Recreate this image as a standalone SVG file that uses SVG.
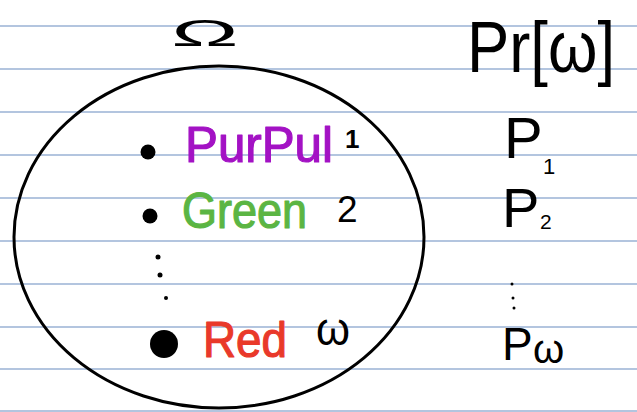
<svg xmlns="http://www.w3.org/2000/svg" width="637" height="412" viewBox="0 0 637 412">
<style>
.rule{stroke:#b3c5df;stroke-width:2}
.t{font-family:"Liberation Sans","DejaVu Sans",sans-serif;fill:#000}
.ink{stroke-linejoin:round;stroke-width:1.2}
.dot{fill:#000}
</style>
<rect width="637" height="412" fill="#fff"/>
<g id="rules">
<line class="rule" x1="0" y1="26" x2="637" y2="26"/>
<line class="rule" x1="0" y1="69" x2="637" y2="69"/>
<line class="rule" x1="0" y1="112" x2="637" y2="112"/>
<line class="rule" x1="0" y1="155" x2="637" y2="155"/>
<line class="rule" x1="0" y1="198" x2="637" y2="198"/>
<line class="rule" x1="0" y1="241" x2="637" y2="241"/>
<line class="rule" x1="0" y1="284" x2="637" y2="284"/>
<line class="rule" x1="0" y1="327" x2="637" y2="327"/>
<line class="rule" x1="0" y1="369" x2="637" y2="369"/>
<line class="rule" x1="0" y1="411" x2="637" y2="411"/>
</g>
<g id="omega-title">
<text class="t" transform="translate(205,46) scale(2.5,1)" x="0" y="0" font-size="36" text-anchor="middle">Ω</text>
</g>
<g id="sample-space">
<ellipse cx="219" cy="237" rx="205" ry="171" fill="none" stroke="#000" stroke-width="3"/>
</g>
<g id="purple">
<circle class="dot" cx="148" cy="152" r="7.5"/>
<text class="t ink" x="185" y="162" font-size="50" stroke="#a312c4" style="fill:#a312c4" textLength="148" lengthAdjust="spacingAndGlyphs">PurPul</text>
<text class="t" x="345" y="148" font-size="26" font-weight="bold">1</text>
</g>
<g id="green">
<circle class="dot" cx="150" cy="216" r="7.5"/>
<text class="t ink" x="182" y="228" font-size="50" stroke="#5bb543" style="fill:#5bb543" textLength="125" lengthAdjust="spacingAndGlyphs">Green</text>
<text class="t" x="337" y="222" font-size="37">2</text>
</g>
<g id="ellipsis-left">
<circle class="dot" cx="158" cy="257" r="2.5"/>
<circle class="dot" cx="160" cy="275" r="2.5"/>
<circle class="dot" cx="166" cy="298" r="2"/>
</g>
<g id="red">
<circle class="dot" cx="164" cy="344" r="14"/>
<text class="t ink" x="203" y="357" font-size="50" stroke="#e9392a" style="fill:#e9392a" textLength="84" lengthAdjust="spacingAndGlyphs">Red</text>
<text class="t" x="316" y="345" font-size="46" textLength="34" lengthAdjust="spacingAndGlyphs">ω</text>
</g>
<g id="pr-title">
<text class="t" x="467" y="72" font-size="72" textLength="148" lengthAdjust="spacingAndGlyphs">Pr[ω]</text>
</g>
<g id="p1">
<text class="t" x="504" y="158" font-size="58">P</text>
<text class="t" x="543" y="174" font-size="22">1</text>
</g>
<g id="p2">
<text class="t" x="502" y="227" font-size="56">P</text>
<text class="t" x="540" y="229" font-size="21">2</text>
</g>
<g id="ellipsis-right">
<circle class="dot" cx="512" cy="284" r="1.5"/>
<circle class="dot" cx="513" cy="298" r="1.5"/>
<circle class="dot" cx="514" cy="308" r="1.5"/>
</g>
<g id="pw">
<text class="t" x="502" y="360" font-size="46">P</text>
<text class="t" x="533" y="363" font-size="40">ω</text>
</g>
</svg>
